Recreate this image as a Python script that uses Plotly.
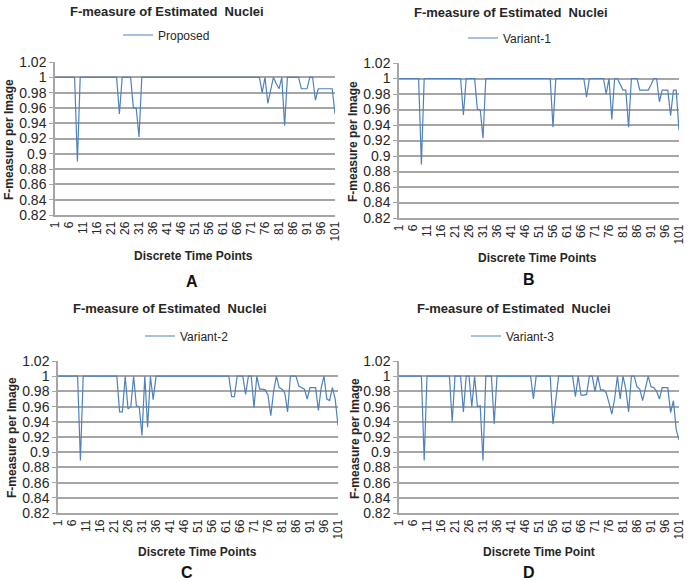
import plotly.graph_objects as go

# discrete time points (category axis) and tick labels every 5 points
time_points = list(range(1, 102))
x_tick_vals = list(range(1, 102, 5))
y_tick_vals = [0.82, 0.84, 0.86, 0.88, 0.9, 0.92, 0.94, 0.96, 0.98, 1.0, 1.02]
y_tick_text = ["0.82", "0.84", "0.86", "0.88", "0.9", "0.92", "0.94", "0.96", "0.98", "1", "1.02"]

proposed = [
    1, 1, 1, 1, 1, 1, 1, 1, 0.89, 1,
    1, 1, 1, 1, 1, 1, 1, 1, 1, 1,
    1, 1, 1, 0.952, 1, 1, 1, 1, 0.96, 0.96,
    0.922, 1, 1, 1, 1, 1, 1, 1, 1, 1,
    1, 1, 1, 1, 1, 1, 1, 1, 1, 1,
    1, 1, 1, 1, 1, 1, 1, 1, 1, 1,
    1, 1, 1, 1, 1, 1, 1, 1, 1, 1,
    1, 1, 1, 1, 0.98, 1, 0.966, 0.983, 1, 0.992,
    0.985, 1, 0.937, 1, 1, 1, 1, 1, 0.985, 0.985,
    0.985, 1, 1, 0.97, 0.985, 0.985, 0.985, 0.985, 0.985, 0.985,
    0.952,
]

variant_1 = [
    1, 1, 1, 1, 1, 1, 1, 1, 0.889, 1,
    1, 1, 1, 1, 1, 1, 1, 1, 1, 1,
    1, 1, 1, 0.953, 1, 1, 1, 1, 0.96, 0.96,
    0.923, 1, 1, 1, 1, 1, 1, 1, 1, 1,
    1, 1, 1, 1, 1, 1, 1, 1, 1, 1,
    1, 1, 1, 1, 1, 0.937, 1, 1, 1, 1,
    1, 1, 1, 1, 1, 1, 1, 0.976, 1, 1,
    1, 1, 1, 1, 0.98, 1, 0.947, 1, 1, 0.992,
    0.985, 0.985, 0.937, 1, 1, 1, 0.985, 0.985, 0.985, 0.985,
    0.992, 1, 1, 0.97, 0.985, 0.985, 0.985, 0.952, 0.985, 0.985,
    0.933,
]

variant_2 = [
    1, 1, 1, 1, 1, 1, 1, 1, 0.889, 1,
    1, 1, 1, 1, 1, 1, 1, 1, 1, 1,
    1, 1, 0.953, 0.953, 1, 0.957, 0.96, 1, 0.961, 0.96,
    0.922, 1, 0.933, 1, 0.969, 1, 1, 1, 1, 1,
    1, 1, 1, 1, 1, 1, 1, 1, 1, 1,
    1, 1, 1, 1, 1, 1, 1, 1, 1, 1,
    1, 1, 0.973, 0.973, 1, 1, 1, 0.976, 1, 1,
    0.959, 1, 0.983, 0.983, 0.982, 0.975, 0.948, 0.98, 1, 0.985,
    0.983, 0.978, 0.953, 1, 1, 1, 0.987, 0.985, 0.983, 0.97,
    0.985, 0.985, 0.985, 0.955, 0.985, 1, 0.97, 0.968, 0.985, 0.97,
    0.935,
]

variant_3 = [
    1, 1, 1, 1, 1, 1, 1, 1, 1, 0.889,
    1, 1, 1, 1, 1, 1, 1, 1, 1, 0.94,
    1, 1, 1, 0.953, 1, 1, 0.96, 1, 0.96, 0.961,
    0.889, 1, 1, 1, 0.937, 1, 1, 1, 1, 1,
    1, 1, 1, 1, 1, 1, 1, 1, 0.97, 1,
    1, 1, 1, 1, 1, 0.937, 0.968, 1, 1, 1,
    1, 1, 1, 0.973, 1, 0.975, 0.975, 0.976, 1, 1,
    0.98, 1, 0.982, 0.982, 0.978, 0.965, 0.95, 0.97, 1, 0.97,
    1, 0.983, 0.953, 1, 1, 0.986, 0.983, 0.968, 0.985, 1,
    0.986, 0.985, 0.98, 0.97, 0.985, 0.985, 0.985, 0.952, 0.968, 0.93,
    0.916,
]

W, H = 688, 581
FONT = "Liberation Sans, Arial, sans-serif"
LINE_BLUE = "#4F81BD"
GRID = "#A6A6A6"
TXT = "#262626"

# panel geometry in pixels: plot-area left, right, top, bottom
panels = [
    dict(name="Proposed", data=proposed, box=(55, 335, 62, 215), title=(167, 11), legend=(118, 35),
         ytitle=(9, 140), xtitle=(193, 256, "Discrete Time Points"), letter=(192, 282, "A")),
    dict(name="Variant-1", data=variant_1, box=(399, 679, 63, 218), title=(511, 12), legend=(463, 38),
         ytitle=(353, 142), xtitle=(537, 258, "Discrete Time Points"), letter=(529, 279, "B")),
    dict(name="Variant-2", data=variant_2, box=(58, 338, 361, 513), title=(170, 308), legend=(140, 336),
         ytitle=(12, 438), xtitle=(197, 552, "Discrete Time Points"), letter=(187, 572, "C")),
    dict(name="Variant-3", data=variant_3, box=(399, 679, 361, 513), title=(514, 308), legend=(466, 336),
         ytitle=(355, 439), xtitle=(539, 552, "Discrete Time Point"), letter=(529, 572, "D")),
]


def px_x(x):
    return x / W


def px_y(y):
    return 1 - y / H


fig = go.Figure()
layout = dict(
    width=W, height=H,
    margin=dict(l=0, r=0, t=0, b=0, autoexpand=False),
    paper_bgcolor="white", plot_bgcolor="white",
    font=dict(family=FONT, color=TXT, size=12),
    showlegend=True,
    annotations=[],
)

for i, p in enumerate(panels, start=1):
    sfx = "" if i == 1 else str(i)
    leg = "legend" if i == 1 else f"legend{i}"
    fig.add_trace(go.Scatter(
        x=time_points, y=p["data"], mode="lines", name=p["name"],
        line=dict(color=LINE_BLUE, width=1.2),
        xaxis=f"x{sfx}", yaxis=f"y{sfx}", legend=leg, showlegend=True,
    ))
    l, r, t, b = p["box"]
    layout[f"xaxis{sfx}"] = dict(
        domain=[px_x(l), px_x(r)], anchor=f"y{sfx}", range=[1, 101],
        tickvals=x_tick_vals, tickangle=-90, tickfont=dict(size=12, color=TXT),
        showgrid=False, zeroline=False, showline=True, linecolor=GRID, linewidth=1.5,
        ticks="", automargin=False, fixedrange=True,
    )
    layout[f"yaxis{sfx}"] = dict(
        domain=[px_y(b), px_y(t)], anchor=f"x{sfx}", range=[0.82, 1.02],
        tickvals=y_tick_vals, ticktext=y_tick_text, tickfont=dict(size=14, color=TXT),
        showgrid=True, gridcolor=GRID, gridwidth=1.5, zeroline=False,
        showline=True, linecolor=GRID, linewidth=1.5,
        ticks="outside", ticklen=4, tickcolor=GRID, automargin=False, fixedrange=True,
    )
    lx, ly = p["legend"]
    layout[leg] = dict(
        x=px_x(lx), y=px_y(ly), xanchor="left", yanchor="middle",
        orientation="h", bgcolor="rgba(0,0,0,0)", font=dict(size=12, color=TXT),
        itemwidth=30, tracegroupgap=0,
    )
    tx, ty = p["title"]
    layout["annotations"].append(dict(
        x=px_x(tx), y=px_y(ty), xref="paper", yref="paper", showarrow=False,
        text="<b>F-measure of Estimated  Nuclei</b>", font=dict(size=13, color=TXT),
        xanchor="center", yanchor="middle",
    ))
    yx, yy = p["ytitle"]
    layout["annotations"].append(dict(
        x=px_x(yx), y=px_y(yy), xref="paper", yref="paper", showarrow=False,
        text="<b>F-measure per Image</b>", textangle=-90, font=dict(size=12, color=TXT),
        xanchor="center", yanchor="middle",
    ))
    xx, xy, xt = p["xtitle"]
    layout["annotations"].append(dict(
        x=px_x(xx), y=px_y(xy), xref="paper", yref="paper", showarrow=False,
        text=f"<b>{xt}</b>", font=dict(size=12, color=TXT),
        xanchor="center", yanchor="middle",
    ))
    cx, cy, ct = p["letter"]
    layout["annotations"].append(dict(
        x=px_x(cx), y=px_y(cy), xref="paper", yref="paper", showarrow=False,
        text=f"<b>{ct}</b>", font=dict(size=16, color="#111111"),
        xanchor="center", yanchor="middle",
    ))

fig.update_layout(**layout)
# drop the default page margin so the figure sits at the window's top-left corner
fig.write_html(
    "out.html",
    config={"displayModeBar": False},
    post_script="document.body.style.margin='0';",
)
